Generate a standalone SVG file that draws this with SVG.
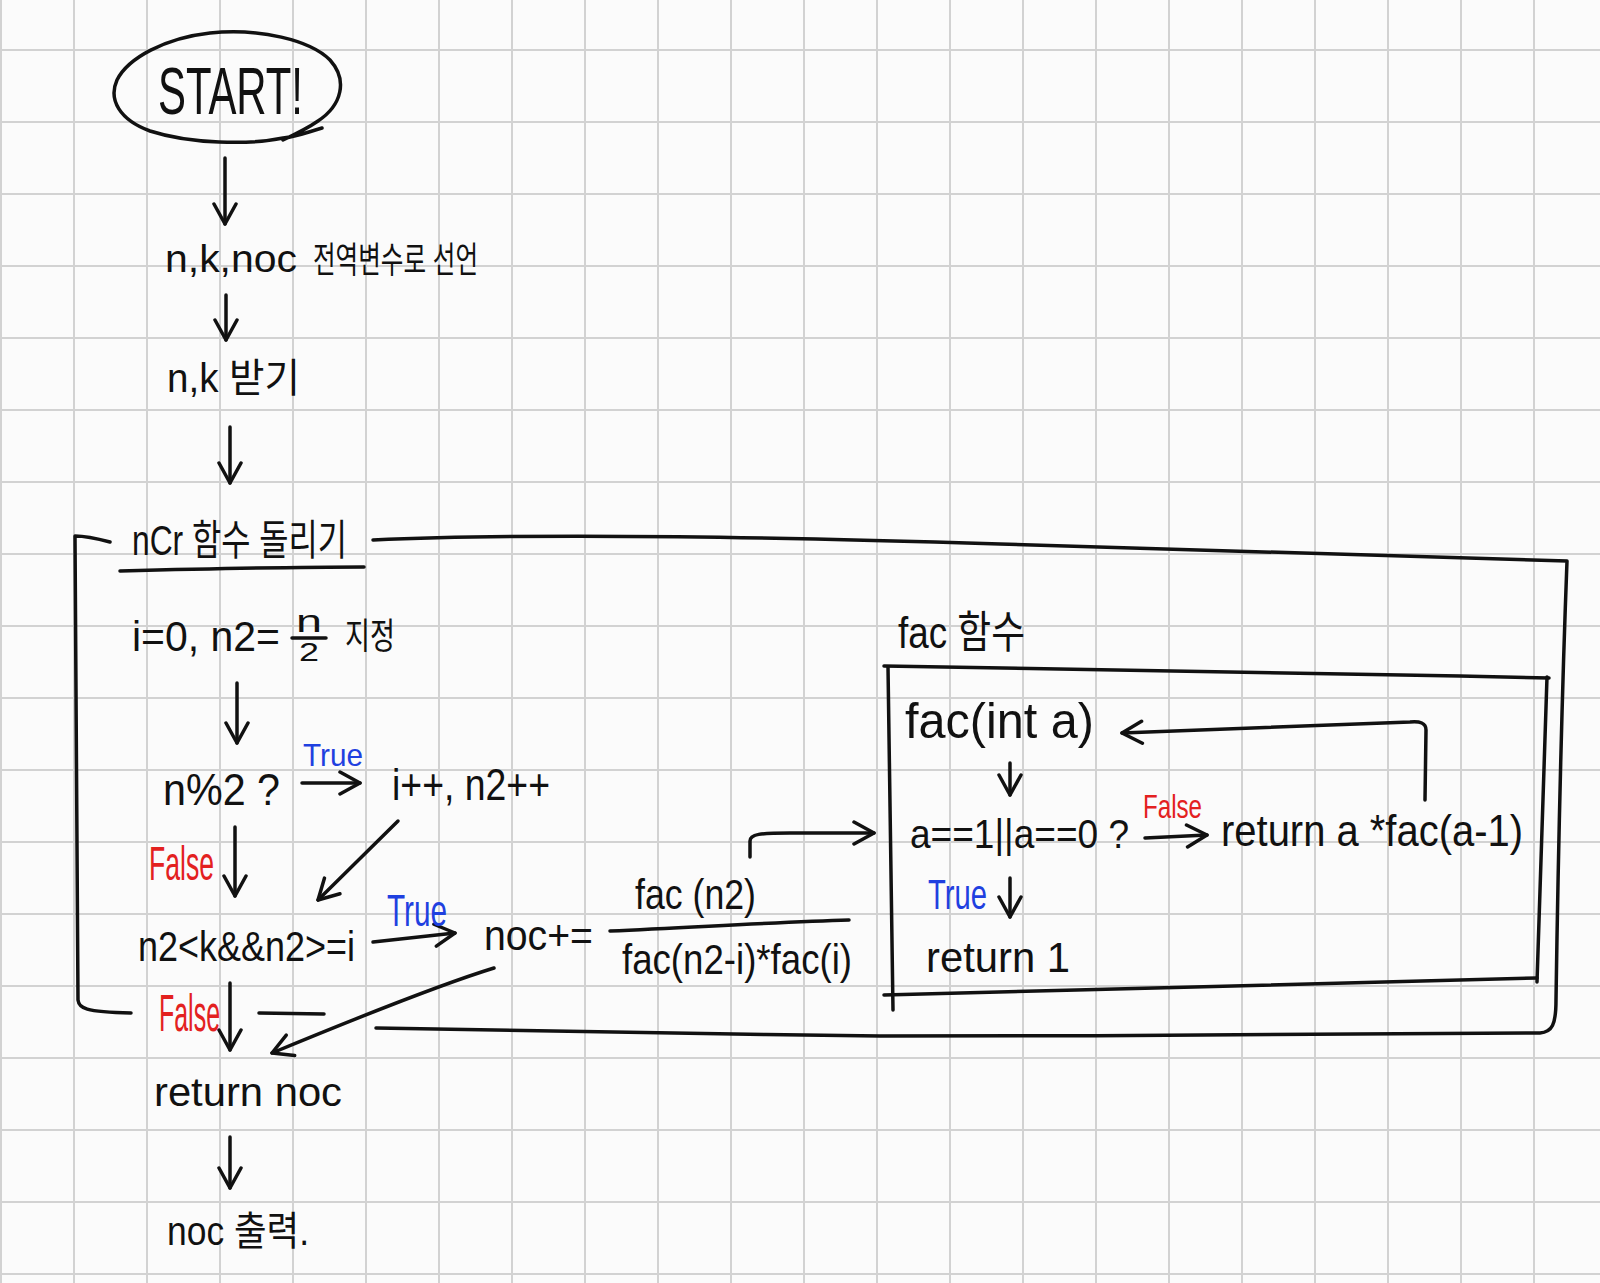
<svg xmlns="http://www.w3.org/2000/svg" width="1600" height="1283" viewBox="0 0 1600 1283">
<style>
.s{fill:none;stroke:#111;stroke-width:3.5;stroke-linecap:round;stroke-linejoin:round}
.a{fill:none;stroke:#111;stroke-width:3.5;stroke-linecap:round;stroke-linejoin:round;marker-end:url(#ah)}
.t{font-family:"Liberation Sans","Noto Sans CJK KR",sans-serif;fill:#111}
.tr{font-family:"Liberation Sans",sans-serif;fill:#e3211f}
.tb{font-family:"Liberation Sans",sans-serif;fill:#1f40e0}
</style>
<defs>
<marker id="ah" viewBox="0 0 26 26" refX="24" refY="13" markerWidth="26" markerHeight="26" markerUnits="userSpaceOnUse" orient="auto">
<path d="M4,2 L24,13 L4,24" fill="none" stroke="#111" stroke-width="3.5" stroke-linecap="round" stroke-linejoin="round"/>
</marker>
</defs>
<rect width="1600" height="1283" fill="#fbfbfb"/>
<g id="grid" fill="none" stroke="#d2d2d2" stroke-width="2">
<path d="M1,0V1283M74,0V1283M147,0V1283M220,0V1283M293,0V1283M366,0V1283M439,0V1283M512,0V1283M585,0V1283M658,0V1283M731,0V1283M804,0V1283M877,0V1283M950,0V1283M1023,0V1283M1096,0V1283M1169,0V1283M1242,0V1283M1315,0V1283M1388,0V1283M1461,0V1283M1534,0V1283"/>
<path d="M0,50H1600M0,122H1600M0,194H1600M0,266H1600M0,338H1600M0,410H1600M0,482H1600M0,554H1600M0,626H1600M0,698H1600M0,770H1600M0,842H1600M0,914H1600M0,986H1600M0,1058H1600M0,1130H1600M0,1202H1600M0,1274H1600"/>
</g>

<g id="ncr-box">
<path class="s" d="M110,542 C95,538 85,536 75,536 C76,700 78,850 78,1000 C79,1008 84,1012 131,1013"/>
<path class="s" d="M373,540 C550,532 800,538 1000,544 C1250,550 1450,556 1567,561 C1564,640 1559,800 1556,1000 C1556,1025 1552,1032 1540,1033 C1300,1035 1100,1036 880,1036 C700,1034 500,1030 376,1028"/>
<path class="s" d="M259,1013 L324,1014"/>
</g>

<g id="fac-box">
<path class="s" d="M884,666 C1100,668 1300,672 1460,676 L1549,678"/>
<path class="s" d="M1547,677 L1537,982"/>
<path class="s" d="M1537,978 C1300,983 1100,990 884,995"/>
<path class="s" d="M888,667 L893,1010"/>
</g>

<g id="start">
<path class="s" d="M322,128 C305,133 295,137 283,138 C250,145 190,144 150,131 C120,120 108,100 117,80 C128,58 165,38 210,33 C260,28 310,40 330,60 C348,80 342,105 318,121 C308,128 298,133 283,140"/>
<text class="t" x="158" y="114" font-size="66" textLength="145" lengthAdjust="spacingAndGlyphs">START!</text>
</g>

<g id="declare">
<text class="t" x="165" y="272" font-size="38" textLength="132" lengthAdjust="spacingAndGlyphs">n,k,noc</text>
<text class="t" x="313" y="273" font-size="36" textLength="165" lengthAdjust="spacingAndGlyphs">전역변수로 선언</text>
</g>

<g id="input">
<text class="t" x="167" y="392" font-size="40" textLength="133" lengthAdjust="spacingAndGlyphs">n,k 받기</text>
</g>

<g id="ncr-title">
<text class="t" x="132" y="555" font-size="42" textLength="215" lengthAdjust="spacingAndGlyphs">nCr 함수 돌리기</text>
<path class="s" d="M120,571 C200,569 300,567 364,567"/>
</g>

<g id="init">
<text class="t" x="132" y="651" font-size="42" textLength="148" lengthAdjust="spacingAndGlyphs">i=0, n2=</text>
<text class="t" x="296" y="632" font-size="32" textLength="26" lengthAdjust="spacingAndGlyphs">n</text>
<path class="s" d="M292,638 L326,638"/>
<text class="t" x="299" y="661" font-size="26" textLength="20" lengthAdjust="spacingAndGlyphs">2</text>
<text class="t" x="345" y="649" font-size="36" textLength="50" lengthAdjust="spacingAndGlyphs">지정</text>
</g>

<g id="cond-odd">
<text class="t" x="163" y="805" font-size="44" textLength="117" lengthAdjust="spacingAndGlyphs">n%2 ?</text>
</g>

<g id="inc">
<text class="t" x="392" y="800" font-size="44" textLength="158" lengthAdjust="spacingAndGlyphs">i++, n2++</text>
</g>

<g id="cond-loop">
<text class="t" x="138" y="961" font-size="42" textLength="217" lengthAdjust="spacingAndGlyphs">n2&lt;k&amp;&amp;n2&gt;=i</text>
</g>

<g id="accum">
<text class="t" x="484" y="950" font-size="42" textLength="109" lengthAdjust="spacingAndGlyphs">noc+=</text>
<text class="t" x="635" y="909" font-size="42" textLength="121" lengthAdjust="spacingAndGlyphs">fac (n2)</text>
<path class="s" d="M610,931 C700,927 780,922 849,920"/>
<text class="t" x="622" y="974" font-size="42" textLength="230" lengthAdjust="spacingAndGlyphs">fac(n2-i)*fac(i)</text>
</g>

<g id="return-noc">
<text class="t" x="154" y="1106" font-size="40" textLength="188" lengthAdjust="spacingAndGlyphs">return noc</text>
</g>

<g id="output">
<text class="t" x="167" y="1245" font-size="40" textLength="142" lengthAdjust="spacingAndGlyphs">noc 출력.</text>
</g>

<g id="fac-title">
<text class="t" x="898" y="648" font-size="44" textLength="127" lengthAdjust="spacingAndGlyphs">fac 함수</text>
</g>

<g id="fac-sig">
<text class="t" x="905" y="738" font-size="50" textLength="189" lengthAdjust="spacingAndGlyphs">fac(int a)</text>
</g>

<g id="fac-cond">
<text class="t" x="910" y="848" font-size="40" textLength="219" lengthAdjust="spacingAndGlyphs">a==1||a==0 ?</text>
</g>

<g id="fac-rec">
<text class="t" x="1221" y="846" font-size="44" textLength="302" lengthAdjust="spacingAndGlyphs">return a *fac(a-1)</text>
</g>

<g id="fac-ret1">
<text class="t" x="926" y="972" font-size="42" textLength="144" lengthAdjust="spacingAndGlyphs">return 1</text>
</g>

<g id="connectors">
<path class="a" d="M225,158 L225,224"/>
<path class="a" d="M226,295 L226,340"/>
<path class="a" d="M230,427 L230,483"/>
<path class="a" d="M237,683 L237,743"/>
<path class="a" d="M302,783 L360,783"/>
<path class="a" d="M235,827 L235,896"/>
<path class="a" d="M398,821 L318,900"/>
<path class="a" d="M373,942 L455,933"/>
<path class="a" d="M230,983 L230,1050"/>
<path class="a" d="M494,968 C455,980 400,1000 272,1053"/>
<path class="a" d="M230,1137 L230,1188"/>
<path class="a" d="M750,857 L750,841 C750,834 760,833 790,833 L874,833"/>
<path class="a" d="M1010,763 L1010,795"/>
<path class="a" d="M1145,838 L1207,835"/>
<path class="a" d="M1425,800 L1426,730 C1426,723 1420,721 1410,722 L1122,733"/>
<path class="a" d="M1010,878 L1010,917"/>
<text class="tb" x="303" y="766" font-size="32" textLength="60" lengthAdjust="spacingAndGlyphs">True</text>
<text class="tr" x="149" y="880" font-size="48" textLength="65" lengthAdjust="spacingAndGlyphs">False</text>
<text class="tb" x="387" y="926" font-size="44" textLength="60" lengthAdjust="spacingAndGlyphs">True</text>
<text class="tr" x="159" y="1031" font-size="52" textLength="61" lengthAdjust="spacingAndGlyphs">False</text>
<text class="tr" x="1143" y="818" font-size="34" textLength="59" lengthAdjust="spacingAndGlyphs">False</text>
<text class="tb" x="928" y="909" font-size="42" textLength="59" lengthAdjust="spacingAndGlyphs">True</text>
</g>
</svg>
